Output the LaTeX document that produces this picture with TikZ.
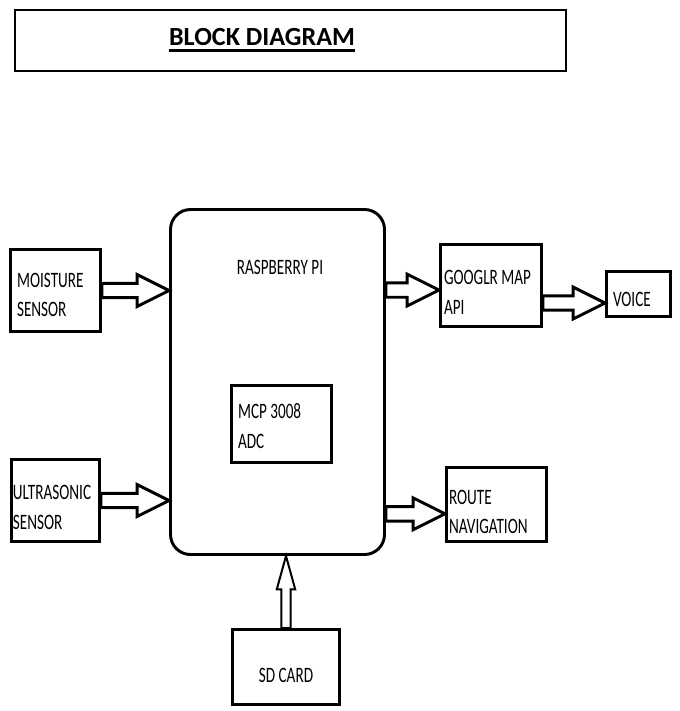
\documentclass[tikz,border=0pt]{standalone}
\usepackage{fontspec}
\setmainfont{Carlito}
\newfontfamily\narrowfont{Carlito}[FakeStretch=0.69]
\newcommand{\thickul}[1]{\setbox0\hbox{#1}\rlap{\rule[-4.6pt]{\wd0}{2.2pt}}\box0}
\usetikzlibrary{calc}
\tikzset{fatw/.store in=\fatw, fath/.store in=\fath, fatl/.store in=\fatl,
  fatw=5.4pt, fath=12pt, fatl=24pt}
\tikzstyle{block}=[draw=black!100,line width=2.2pt,inner sep=0pt,align=flush left,font=\narrowfont\fontsize{16.5}{22}\selectfont]
\tikzstyle{board}=[block,rounded corners=15pt]
\tikzstyle{caption}=[inner sep=0pt,font=\narrowfont\fontsize{16.5}{22}\selectfont]
\tikzstyle{fatarrow}=[draw=black!100,line width=2.2pt,line join=miter,
  to path={let \p0=($(\tikztotarget)!\fatl!(\tikztostart)$) in
    ($(\tikztostart)!\fatw!90:(\tikztotarget)$) -- ($(\p0)!\fatw!90:(\tikztotarget)$)
    -- ($(\p0)!\fath!90:(\tikztotarget)$) -- (\tikztotarget)
    -- ($(\p0)!\fath!-90:(\tikztotarget)$) -- ($(\p0)!\fatw!-90:(\tikztotarget)$)
    -- ($(\tikztostart)!\fatw!-90:(\tikztotarget)$) -- cycle}]

\begin{document}
\begin{tikzpicture}[x=0.75pt,y=-0.75pt]
    \useasboundingbox (0,0) rectangle (680,711);

    % title
    \node (ttlbox) at (290.5,40.5) [draw=black!100,line width=1.5pt,minimum width=413.25pt,minimum height=45.75pt] {};
    \node (ttl) at (262,40) [inner sep=0pt,font=\bfseries\fontsize{19.6}{22}\selectfont] {\thickul{BLOCK DIAGRAM}};

    % blocks
    \node (rpi) at (277.5,382) [board,minimum width=160.5pt,minimum height=258.75pt] {};
    \node (rpilbl) at (280,267) [caption] {RASPBERRY PI};
    \node (mcp) at (281.5,424) [block,minimum width=75pt,minimum height=57.75pt,text width=65.2pt,text height=14.3pt] {MCP 3008\\ADC};
    \node (moist) at (55.5,290.5) [block,minimum width=67.5pt,minimum height=61.5pt,text width=57.7pt,text height=17.3pt] {MOISTURE\\SENSOR};
    \node (ultra) at (55.5,500.5) [block,minimum width=66pt,minimum height=61.5pt,text width=63.8pt,text height=21pt] {ULTRASONIC\\SENSOR};
    \node (googlr) at (491,285.5) [block,minimum width=75.75pt,minimum height=61.5pt,text width=70.5pt,text height=21pt] {GOOGLR MAP\\API};
    \node (voice) at (638.5,294) [block,minimum width=48pt,minimum height=33.75pt,text width=38.2pt,text height=19.5pt] {VOICE};
    \node (route) at (496.5,504.5) [block,minimum width=75pt,minimum height=55.5pt,text width=71.2pt,text height=21.7pt] {ROUTE\\NAVIGATION};
    \node (sd) at (286,667) [block,align=center,minimum width=80.25pt,minimum height=56.25pt,text height=24pt] {SD CARD};

    % arrows
    \draw [fatarrow] (moist.east) to (moist.east -| rpi.west);
    \draw [fatarrow] (ultra.east) to (ultra.east -| rpi.west);
    \draw [fatarrow] ([yshift=-3.4pt]googlr.west -| rpi.east) to ([yshift=-3.4pt]googlr.west);
    \draw [fatarrow] ([yshift=-6.75pt]voice.west -| googlr.east) to ([yshift=-6.75pt]voice.west);
    \draw [fatarrow] ([yshift=-7pt]route.west -| rpi.east) to ([yshift=-7pt]route.west);
    \draw [fatarrow,line width=1.5pt,fatw=3.4pt,fath=6.9pt,fatl=25pt] (sd.north) to (sd.north |- rpi.south);
\end{tikzpicture}
\end{document}
